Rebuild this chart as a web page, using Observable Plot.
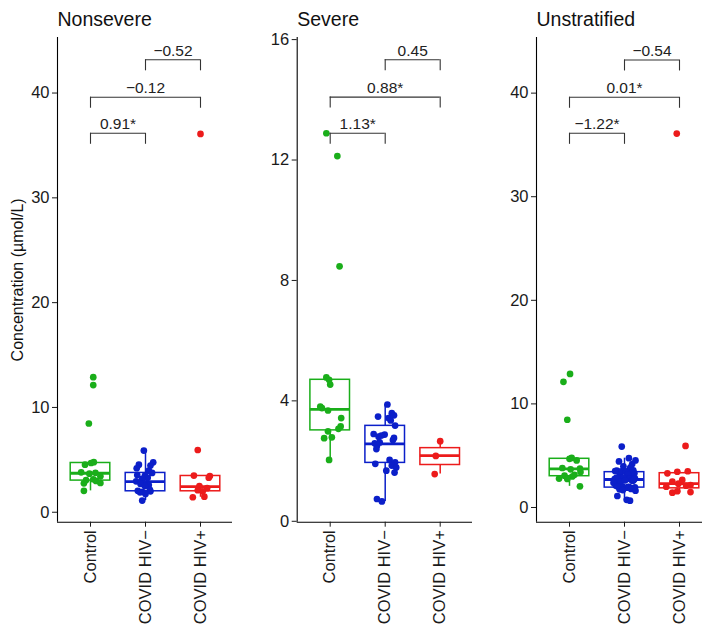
<!DOCTYPE html>
<html>
<head>
<meta charset="utf-8">
<script src="https://cdn.jsdelivr.net/npm/d3@7"></script>
<script src="https://cdn.jsdelivr.net/npm/@observablehq/plot@0.6"></script>
<style>
  body { margin: 0; background: #fff; font-family: "Liberation Sans", Arial, sans-serif; }
  #root { position: relative; width: 702px; height: 628px; overflow: hidden; background: #fff; }
  .panel { position: absolute; top: 0; }
</style>
</head>
<body>
<div id="root"></div>
<script>
// ---------------- data ----------------
const groups = ["Control", "COVID HIV\u2212", "COVID HIV+"];
const panelTitles = ["Nonsevere", "Severe", "Unstratified"];
const groupColors = ["#1aae1a", "#0b1fc9", "#ec1b1b"];

// concentrations (µmol/L)
const controlValues = [12.89, 12.13, 8.47, 4.78, 4.70, 4.54, 3.81, 3.76, 3.68, 3.43, 3.15, 3.07, 2.99, 2.79, 2.76, 2.04];
const nonsevereNegValues = [5.88, 4.76, 4.54, 4.45, 4.2, 3.97, 3.75, 3.55, 3.5, 3.3, 3.18, 2.95, 2.75, 2.7, 2.6, 2.5, 2.0, 2.05, 1.95, 2.13, 1.9, 1.75, 1.11];
const nonseverePosValues = [36.1, 5.94, 3.5, 3.45, 3.3, 2.5, 2.3, 2.1, 2.0, 1.49, 1.43];
const severeNegValues = [3.88, 3.59, 3.48, 3.43, 3.52, 3.35, 3.18, 2.90, 2.81, 2.88, 2.77, 2.85, 2.59, 2.51, 2.62, 2.40, 2.70, 1.91, 2.04, 1.96, 1.85, 1.68, 1.79, 1.62, 0.74, 0.66];
const severePosValues = [2.66, 2.17, 1.57];
const unstratNegValues = nonsevereNegValues.concat(severeNegValues);
const unstratPosValues = nonseverePosValues.concat(severePosValues);

const panelValues = [
  [controlValues, nonsevereNegValues, nonseverePosValues],
  [controlValues, severeNegValues, severePosValues],
  [controlValues, unstratNegValues, unstratPosValues]
];

// horizontal jitter (in category units)
const jitterNonsevere = [
  [0.05, 0.05, -0.03, 0.06, 0.01, -0.1, -0.17, 0.09, -0.02, 0.18, 0.05, -0.08, 0.1, 0.18, -0.12, -0.12],
  [-0.03, 0.14, -0.12, 0.09, -0.16, 0.06, 0.12, -0.15, -0.01, 0.04, -0.06, -0.17, -0.03, -0.09, 0.06, -0.01, 0.09, -0.14, -0.06, 0.08, -0.1, 0.0, -0.06],
  [0.0, -0.05, -0.12, 0.17, 0.15, -0.02, 0.12, -0.05, 0.04, 0.07, -0.14]
];
const jitterSevere = [
  [-0.07, 0.13, 0.17, -0.07, -0.02, 0, -0.18, -0.15, -0.04, 0.2, 0.19, 0.15, -0.04, 0.03, -0.11, -0.02],
  [0.04, 0.12, -0.13, 0.06, 0.16, 0.10, 0.18, -0.21, -0.12, -0.01, 0.16, -0.07, -0.19, -0.15, -0.10, -0.16, 0.14, -0.18, 0.08, 0.18, 0.12, 0.02, 0.20, 0.17, -0.15, -0.06],
  [0, -0.08, -0.10]
];
const jitterUnstrat = [
  [0.01, -0.11, -0.04, 0.04, 0, 0.13, -0.13, 0.19, 0.02, 0.2, 0.09, -0.09, 0.05, -0.19, -0.04, 0.19],
  [-0.05, 0.08, 0.2, -0.1, 0.14, -0.02, 0.1, -0.14, 0.05, 0.18, -0.08, 0.12, -0.18, 0.02, 0.16, -0.12, 0.07, -0.04, 0.19, -0.16, 0.11, -0.09, -0.13,
   0.11, 0.16, -0.06, 0.03, -0.17, 0.13, 0.06, -0.11, 0.19, -0.02, 0.09, -0.15, 0.14, -0.07, 0.01, -0.2, 0.17, 0.04, -0.13, 0.08, 0.18, -0.03, 0.12, 0.2, 0.04, 0.1],
  [-0.05, 0.11, 0.15, -0.04, -0.22, -0.13, -0.02, 0.12, -0.24, 0.2, -0.13, 0.05, 0.2, -0.04]
];
const panelJitter = [jitterNonsevere, jitterSevere, jitterUnstrat];

// box statistics per panel: [Control, COVID HIV−, COVID HIV+]
const boxLower  = [[2.04, 1.11, 1.43], [2.04, 0.66, 1.57], [2.04, 0.66, 1.43]];
const boxQ1     = [[3.02, 2.00, 2.00], [3.02, 1.94, 1.87], [3.02, 1.92, 1.85]];
const boxMedian = [[3.72, 2.92, 2.45], [3.72, 2.57, 2.18], [3.72, 2.70, 2.30]];
const boxQ3     = [[4.70, 3.75, 3.46], [4.70, 3.17, 2.43], [4.70, 3.41, 3.31]];
const boxUpper  = [[4.78, 5.88, 3.50], [4.78, 3.88, 2.66], [4.78, 4.76, 3.50]];

// significance brackets
const bracketPairs = [[1, 2], [1, 3], [2, 3]];
const bracketLabels = [
  ["0.91*", "\u22120.12", "\u22120.52"],
  ["1.13*", "0.88*", "0.45"],
  ["\u22121.22*", "0.01*", "\u22120.54"]
];
const bracketLevels = [[36.16, 39.6, 43.17], [12.89, 14.09, 15.33], [36.12, 39.6, 43.2]];

const yTicks = [[0, 10, 20, 30, 40], [0, 4, 8, 12, 16], [0, 10, 20, 30, 40]];
const yDomains = [[-0.95, 45.3], [-0.03, 16.07], [-1.42, 45.37]];
const yTitle = "Concentration (\u00b5mol/L)";

// ---------------- layout ----------------
const H = 628, MT = 37, MB = 106.3;
const PX_PER_CAT = 55;
const layout = [
  { left: 0,   width: 234, ml: 57,   mr: 2 },
  { left: 240, width: 234, ml: 56.7, mr: 2 },
  { left: 480, width: 222, ml: 56,   mr: 0 }
];
const FONT = "'Liberation Sans', Arial, Helvetica, sans-serif";

function makePanel(p) {
  const L = layout[p];
  const frameW = L.width - L.ml - L.mr;
  const xDomain = [0.4, 0.4 + frameW / PX_PER_CAT];
  const [y0, y1] = yDomains[p];
  const tickLen = 11 * (y1 - y0) / (H - MT - MB);

  const pts = [];
  panelValues[p].forEach((vals, gi) => {
    vals.forEach((v, k) => pts.push({ x: gi + 1 + panelJitter[p][gi][k], y: v, c: groupColors[gi] }));
  });
  const boxes = groups.map((g, i) => ({
    x: i + 1, c: groupColors[i],
    lo: boxLower[p][i], q1: boxQ1[p][i], med: boxMedian[p][i], q3: boxQ3[p][i], hi: boxUpper[p][i]
  }));
  const br = bracketPairs.map(([a, b], k) => ({ a, b, y: bracketLevels[p][k], label: bracketLabels[p][k] }));
  const brTicks = br.flatMap(d => [{ x: d.a, y: d.y }, { x: d.b, y: d.y }]);

  const hw = 0.36;
  const marks = [
    Plot.ruleX(boxes, { x: "x", y1: "q3", y2: "hi", stroke: "c", strokeWidth: 1.5 }),
    Plot.ruleX(boxes, { x: "x", y1: "lo", y2: "q1", stroke: "c", strokeWidth: 1.5 }),
    Plot.rect(boxes, { x1: d => d.x - hw, x2: d => d.x + hw, y1: "q1", y2: "q3", fill: "white", stroke: "c", strokeWidth: 1.5 }),
    Plot.ruleY(boxes, { y: "med", x1: d => d.x - hw, x2: d => d.x + hw, stroke: "c", strokeWidth: 2.8 }),
    Plot.dot(pts, { x: "x", y: "y", r: 3.35, fill: "c", stroke: null }),
    Plot.ruleY(br, { y: "y", x1: "a", x2: "b", stroke: "#333", strokeWidth: 1.1 }),
    Plot.ruleX(brTicks, { x: "x", y1: "y", y2: d => d.y - tickLen, stroke: "#333", strokeWidth: 1.1 }),
    Plot.text(br, { x: d => (d.a + d.b) / 2, y: "y", text: "label", dy: -4, lineAnchor: "bottom", fontSize: 15.5, fill: "#222" }),
    Plot.ruleX([xDomain[0]], { stroke: "black", strokeWidth: 1.1 }),
    Plot.ruleY([y0], { stroke: "black", strokeWidth: 1.1 }),
    Plot.axisY({ ticks: yTicks[p], tickSize: 5, tickPadding: 3, fontSize: 16.5, color: "#1a1a1a", label: null }),
    Plot.axisX({ ticks: [1, 2, 3], tickFormat: d => groups[d - 1], tickRotate: -90, tickSize: 5, tickPadding: 3, fontSize: 16.5, color: "#1a1a1a", label: null }),
    Plot.text([panelTitles[p]], { frameAnchor: "top-left", text: d => d, textAnchor: "start", lineAnchor: "bottom", dy: -12, fontSize: 19.5, fill: "#111" })
  ];
  if (p === 0) {
    marks.push(Plot.text([yTitle], { frameAnchor: "left", text: d => d, rotate: -90, dx: -40, textAnchor: "middle", lineAnchor: "middle", fontSize: 16, fill: "#111" }));
  }

  return Plot.plot({
    width: L.width,
    height: H,
    marginLeft: L.ml,
    marginRight: L.mr,
    marginTop: MT,
    marginBottom: MB,
    x: { type: "linear", domain: xDomain },
    y: { type: "linear", domain: [y0, y1] },
    color: { type: "identity" },
    style: { fontFamily: FONT, fontSize: "16.5px", background: "transparent", overflow: "visible" },
    marks
  });
}

const root = document.getElementById("root");
for (let p = 0; p < 3; p++) {
  const svg = makePanel(p);
  const wrap = document.createElement("div");
  wrap.className = "panel";
  wrap.style.left = layout[p].left + "px";
  wrap.appendChild(svg);
  root.appendChild(wrap);
}
</script>
</body>
</html>
